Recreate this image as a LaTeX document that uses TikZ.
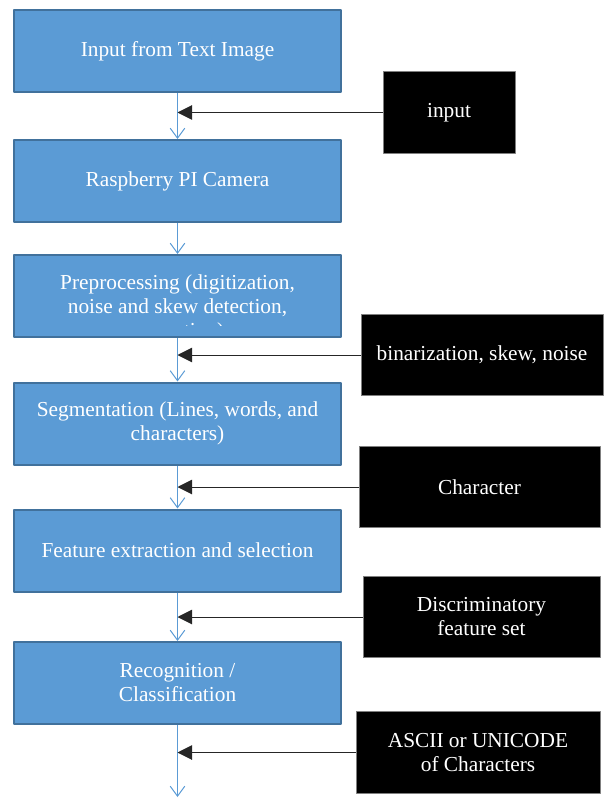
\documentclass[tikz,border=0pt]{standalone}
\usepackage{fontspec}
\setmainfont{Liberation Serif}
\usetikzlibrary{arrows.meta,positioning}

\definecolor{boxblue}{HTML}{5B9BD5}
\definecolor{boxedge}{HTML}{41719C}
\definecolor{frameedge}{HTML}{7F7F7F}
\definecolor{feedline}{HTML}{262626}

\tikzset{
  stagebox/.style={draw=boxedge, line width=1.5pt, fill=boxblue,
    minimum width=245pt, minimum height=61.5pt, inner sep=0pt,
    text=white, align=center, font=\fontsize{16}{18}\selectfont},
  stagetext/.style={text=white, align=center, inner sep=0pt,
    font=\fontsize{16}{18}\selectfont},
  databox/.style={draw=frameedge, line width=0.75pt, fill=black,
    minimum height=61pt, inner sep=0pt,
    text=white, align=center, font=\fontsize{16}{18}\selectfont},
  flow/.style={draw=boxblue, line width=0.75pt,
    -{Straight Barb[length=7.5pt,width=11pt]}},
  feed/.style={draw=feedline, line width=0.75pt,
    -{Triangle[length=11pt,width=11pt]}}
}

\begin{document}
\begin{tikzpicture}[x=0.75pt,y=-0.75pt,line join=round]
    \useasboundingbox (0,0) rectangle (604,798);

    % Processing stages
    \node[stagebox] (b1) at (177.5,51)  {Input from Text Image};
    \node[stagebox] (b2) at (177.5,181) {Raspberry PI Camera};
    \node[stagebox] (b3) at (177.5,296) {};
    \node[stagebox] (b4) at (177.5,423.5) {Segmentation (Lines, words, and\\characters)};
    \node[stagebox] (b5) at (177.5,550.5) {Feature extraction and selection};
    \node[stagebox] (b6) at (177.5,683) {Recognition /\\Classification};

    % Text of stage 3 runs over the bottom of its box
    \begin{scope}
      \clip (14,255) rectangle (341,325);
      \node[stagetext, anchor=base] (b3text) at (177.5,337)
        {Preprocessing (digitization,\\noise and skew detection,\\correction)};
    \end{scope}

    % Data fed in from the side
    \node[databox, minimum width=99pt]     (inp) at (449,112.5) {input};
    \node[databox, minimum width=181.5pt]  (bin) at (482,355)   {binarization, skew, noise};
    \node[databox, minimum width=180.75pt] (chr) at (479.5,487) {Character};
    \node[databox, minimum width=177.75pt] (dis) at (481.5,617) {Discriminatory\\feature set};
    \node[databox, minimum width=183pt]    (asc) at (478,752.5) {ASCII or UNICODE\\of Characters};

    \coordinate (out) at (177.5,797);

    % Main flow
    \foreach \from/\to in {b1/b2, b2/b3, b3/b4, b4/b5, b5/b6, b6/out}
      \draw[flow] (\from.south) -- (\to.north);

    % Side inputs
    \foreach \src/\stage in {inp/b1, bin/b3, chr/b4, dis/b5, asc/b6}
      \draw[feed] (\src.west) -- (\src.west -| \stage.south);
  \end{tikzpicture}
\end{document}
